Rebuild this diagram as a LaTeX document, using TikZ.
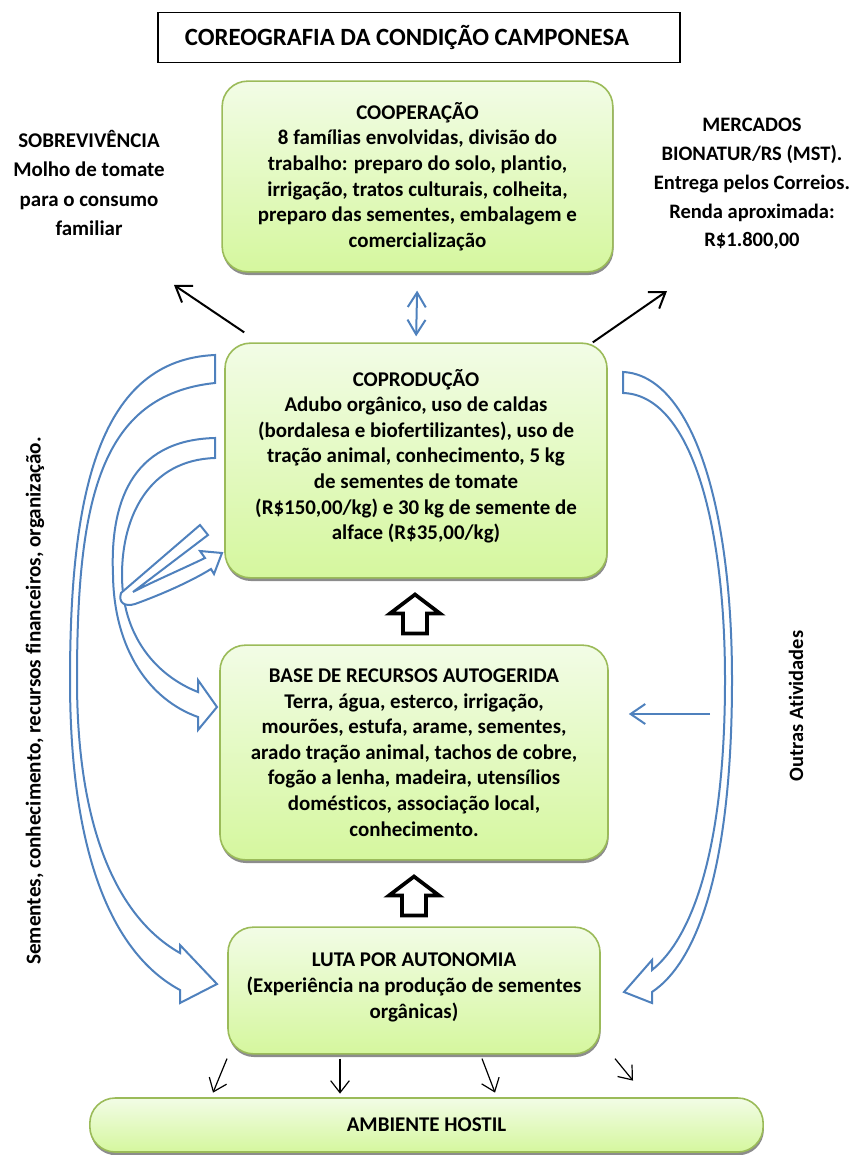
\documentclass[tikz,border=0pt]{standalone}
\usepackage{fontspec}
\setmainfont{Carlito}[RawFeature={-liga,-dlig,-calt}]
\usetikzlibrary{arrows.meta}
\usetikzlibrary{calc}
\usetikzlibrary{positioning}
\usetikzlibrary{shadows}

\definecolor{boxtop}{HTML}{F2FCE6}
\definecolor{boxbottom}{HTML}{D5F79E}
\definecolor{boxline}{HTML}{9BBB59}
\definecolor{flowblue}{HTML}{4F81BD}

\newcommand{\boxfont}{\fontsize{15.7}{19.2}\selectfont\bfseries}
\newcommand{\titlefont}{\fontsize{18.6}{22}\selectfont\bfseries}

\tikzset{
  stage/.style={draw=boxline, line width=1.2pt, rounded corners=19pt,
    top color=boxtop, bottom color=boxbottom, align=center,
    font=\boxfont, inner sep=0pt,
    drop shadow={shadow xshift=0.5pt, shadow yshift=-2.4pt, fill=black!75, opacity=0.6}},
  sidenote/.style={align=center},
  hollow/.style={draw=flowblue, line width=1.5pt, fill=white, line join=miter},
  fatup/.style={draw=black, line width=2.8pt, fill=white, line join=miter},
  flow/.style={draw=flowblue, line width=1.5pt},
  push/.style={draw=black, line width=1.5pt},
  leak/.style={draw=black, line width=0.9pt},
}

\begin{document}
\begin{tikzpicture}[x=0.75pt, y=-0.75pt,
    >={Straight Barb[length=11pt, width=15pt]}]
  \useasboundingbox (0,0) rectangle (856,1155);

  \node[draw, line width=0.9pt, minimum width=391.5pt, minimum height=38pt,
    font=\titlefont] (title) at (419,37.5)
    {COREOGRAFIA DA CONDIÇÃO CAMPONESA\hspace*{18pt}};

  \node[stage, minimum width=293pt, minimum height=143pt] (coop) at (417.5,176.5)
    {COOPERAÇÃO\\
     8 famílias envolvidas, divisão do\\
     trabalho: preparo do solo, plantio,\\
     irrigação, tratos culturais, colheita,\\
     preparo das sementes, embalagem e\\
     comercialização};

  \node[stage, minimum width=286.5pt, minimum height=176pt] (coprod) at (416,460.5)
    {COPRODUÇÃO\\
     Adubo orgânico, uso de caldas\\
     (bordalesa e biofertilizantes), uso de\\
     tração animal, conhecimento, 5 kg\\
     de sementes de tomate\\
     (R\$150,00/kg) e 30 kg de semente de\\
     alface (R\$35,00/kg)\\[-10pt]};

  \node[stage, minimum width=291pt, minimum height=161pt] (base) at (414,752.5)
    {BASE DE RECURSOS AUTOGERIDA\\
     Terra, água, esterco, irrigação,\\
     mourões, estufa, arame, sementes,\\
     arado tração animal, tachos de cobre,\\
     fogão a lenha, madeira, utensílios\\
     domésticos, associação local,\\
     conhecimento.};

  \node[stage, minimum width=279pt, minimum height=95pt] (luta) at (414,990.5)
    {LUTA POR AUTONOMIA\\
     (Experiência na produção de sementes\\
     orgânicas)\\[-12pt]};

  \node[stage, minimum width=505pt, minimum height=40.5pt] (amb) at (426.5,1125)
    {AMBIENTE HOSTIL};

  % side notes
  \node[sidenote, font=\fontsize{15.7}{22}\selectfont\bfseries] (surviv) at (89,183)
    {SOBREVIVÊNCIA\\ Molho de tomate\\ para o consumo\\ familiar};
  \node[sidenote, font=\fontsize{15.4}{21.6}\selectfont\bfseries] (market) at (752,184)
    {MERCADOS\\ BIONATUR/RS (MST).\\ Entrega pelos Correios.\\ Renda aproximada:\\ R\$1.800,00};
  \node[rotate=90, font=\fontsize{15.9}{19}\selectfont\bfseries] (inputs) at (35,701)
    {Sementes, conhecimento, recursos financeiros, organização.};
  \node[rotate=90, font=\fontsize{15.3}{19}\selectfont\bfseries] (others) at (796,706)
    {Outras Atividades};

  % outputs of the coproduction
  \coordinate (survivtail) at ($(coprod.north west)+(20,-10)$);
  \coordinate (survivhead) at (174,285);
  \coordinate (markettail) at ($(coprod.north east)+(-15,0)$);
  \coordinate (markethead) at (667,291);
  \draw[push, ->] (survivtail) -- (survivhead);
  \draw[push, ->] (markettail) -- (markethead);

  \draw[flow, <->, >={Straight Barb[length=11pt, width=13.5pt]},
    shorten <=13.5pt, shorten >=4.5pt] (coop.south) -- (coprod.north);

  \coordinate (othertail) at (710,714);
  \draw[flow, ->, shorten >=15pt] (othertail) -- (othertail -| base.east);

  % big hollow arrows
  \draw[hollow] (215,355) .. controls (100,360) and (70,490) .. (70,680)
    .. controls (70,860) and (115,955) .. (180,990) -- (180,1003) -- (217,984)
    -- (180,945) -- (180,953) .. controls (118,918) and (77,830) .. (77,680)
    .. controls (77,500) and (100,395) .. (215,383) -- cycle;
  \draw[hollow] (215,438) .. controls (130,440) and (110,505) .. (113,575)
    .. controls (114,650) and (150,700) .. (198,717) -- (198,730) -- (217,707)
    -- (198,680) -- (198,692) .. controls (155,675) and (122,635) .. (122,575)
    .. controls (122,515) and (150,460) .. (215,458) -- cycle;
  \draw[hollow] (200,525) -- (121,593) .. controls (118,603) and (125,607) .. (135,604)
    .. controls (160,595) and (190,582) .. (211,569) -- (214,574) -- (222,553)
    -- (200,551) -- (205,558) .. controls (180,570) and (150,583) .. (133,592)
    -- (208,535) -- cycle;
  \draw[hollow] (623,372) .. controls (690,375) and (732,500) .. (732,680)
    .. controls (732,860) and (700,960) .. (652,992) -- (652,1003) -- (624,992)
    -- (652,960) -- (652,970) .. controls (692,938) and (725,850) .. (725,680)
    .. controls (725,520) and (690,395) .. (623,393) -- cycle;

  % fat arrows between the stages
  \foreach \lo/\hi in {coprod/base, base/luta}
    \draw[fatup] ($(\lo.south)!0.5!(\hi.north)$) ++(-12,22) -- ++(0,-20) -- ++(-13,0)
      -- ++(25,-19) -- ++(25,19) -- ++(-13,0) -- ++(0,20) -- cycle;

  % pressure towards the hostile environment
  \foreach \dx/\tx/\ty in {-187/-201/38, -74/-74/39, 68/81/38, 201/219/26}
    \draw[leak, ->, >={Straight Barb[length=9pt, width=14pt]}]
      ($(luta.south)+(\dx,4)$) -- ($(luta.south)+(\tx,\ty)$);
\end{tikzpicture}
\end{document}
